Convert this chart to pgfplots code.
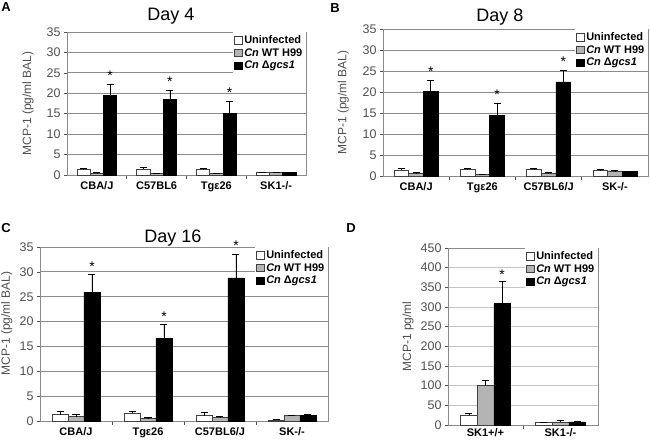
\documentclass[border=0pt]{standalone}
\usepackage{fontspec}
\setmainfont{Liberation Sans}
\usepackage{pgfplots}
\pgfplotsset{compat=1.18}

\definecolor{gridc}{HTML}{8C8C8C}
\definecolor{gridd}{HTML}{C4C4C4}
\definecolor{framec}{HTML}{8A8A8A}
\definecolor{tickc}{HTML}{505050}
\definecolor{wtbar}{HTML}{B4B4B4}
\newcommand{\fs}[1]{\fontsize{#1bp}{#1bp}\selectfont}

\pgfplotsset{
  panel/.style={
    scale only axis, anchor=south west, clip=false,
    axis line style={draw=framec, line width=0.7bp},
    ymin=0,
    ymajorgrids, grid style={draw=gridc, line width=0.9bp},
    tick align=outside, xtick pos=bottom, ytick pos=left,
    major tick length=3bp, minor tick length=4bp,
    tick style={draw=tickc, line width=0.6bp},
    major x tick style={draw=none},
    minor x tick style={draw=tickc},
    yminorticks=false,
    /pgf/number format/assume math mode=true,
    yticklabel style={font=\fs{12.5}, text=tickc},
    xticklabel style={font=\bfseries\fs{11}, text=black},
    ylabel style={anchor=center, font=\fs{12}, text=tickc},
    legend style={at={(1,1)}, anchor=north east, draw=none, fill=white,
      font=\bfseries\fs{11}, inner sep=1.5bp, row sep=-0.5bp,
      /tikz/every even column/.style={column sep=2bp}},
    legend cell align=left,
    legend image code/.code={\draw[#1] (0bp,-3.5bp) rectangle (7.5bp,4bp);},
  },
  bar common/.style={ybar, bar width=0.222, bar shift=0, line width=0.6bp,
    error bars/.cd, y dir=plus, y explicit,
    error bar style={line width=0.7bp, black},
    error mark options={rotate=90, mark size=3.5bp, line width=0.7bp, black}},
  bU/.style={fill=white, draw=black!75, bar common},
  bW/.style={fill=wtbar, draw=black!75, bar common},
  bD/.style={fill=black, draw=black, bar common},
  star/.style={only marks, mark=text, text mark={\fs{14}*}, forget plot},
}

\begin{document}
\begin{tikzpicture}
\useasboundingbox (0,0) rectangle (650bp,441bp);

% Panel A
\begin{axis}[panel, at={(67bp,266bp)}, width=239bp, height=143bp,
  xmin=-0.5, xmax=3.5, ymax=35, ytick={0,5,...,35},
  xtick={0,1,2,3}, minor xtick={0.5,1.5,2.5},
  xticklabels={CBA/J, C57BL6, Tgε26, SK1-/-},
  ylabel={MCP-1 (pg/ml BAL)},
  ylabel style={at={(axis description cs:-0.163,0.5)}}]
\addplot[bU] coordinates {(-0.222,1.3)+-(0,0.3) (0.778,1.5)+-(0,0.3) (1.778,1.3)+-(0,0.3) (2.778,0.6)+-(0,0.1)};
\addlegendentry{Uninfected}
\addplot[bW] coordinates {(0,0.5)+-(0,0.1) (1,0.4)+-(0,0.1) (2,0.4)+-(0,0.1) (3,0.6)+-(0,0.1)};
\addlegendentry{\textit{Cn} WT H99}
\addplot[bD] coordinates {(0.222,19.5)+-(0,2.7) (1.222,18.5)+-(0,2.2) (2.222,15.1)+-(0,2.9) (3.222,0.6)+-(0,0.1)};
\addlegendentry{\textit{Cn} Δ\textit{gcs1}}
\addplot[star] coordinates {(0.222,24.3) (1.222,22.8) (2.222,20.1)};
\end{axis}

% Panel B
\begin{axis}[panel, at={(383bp,265bp)}, width=265bp, height=147bp,
  xmin=-0.5, xmax=3.5, ymax=35, ytick={0,5,...,35},
  xtick={0,1,2,3}, minor xtick={0.5,1.5,2.5},
  xticklabels={CBA/J, Tgε26, C57BL6/J, SK-/-},
  ylabel={MCP-1 (pg/ml BAL)},
  ylabel style={at={(axis description cs:-0.150,0.5)}}]
\addplot[bU] coordinates {(-0.222,1.4)+-(0,0.4) (0.778,1.5)+-(0,0.3) (1.778,1.5)+-(0,0.3) (2.778,1.3)+-(0,0.2)};
\addlegendentry{Uninfected}
\addplot[bW] coordinates {(0,0.7)+-(0,0.1) (1,0.3)+-(0,0.1) (2,0.6)+-(0,0.2) (3,1.2)+-(0,0.1)};
\addlegendentry{\textit{Cn} WT H99}
\addplot[bD] coordinates {(0.222,20.2)+-(0,2.6) (1.222,14.4)+-(0,2.9) (2.222,22.4)+-(0,2.7) (3.222,1.1)+-(0,0.1)};
\addlegendentry{\textit{Cn} Δ\textit{gcs1}}
\addplot[star] coordinates {(0.222,24.8) (1.222,19.3) (2.222,27.1)};
\end{axis}

% Panel C
\begin{axis}[panel, at={(40bp,20bp)}, width=288bp, height=174bp,
  xmin=-0.5, xmax=3.5, ymax=35, ytick={0,5,...,35},
  xtick={0,1,2,3}, minor xtick={0.5,1.5,2.5},
  xticklabels={CBA/J, Tgε26, C57BL6/J, SK-/-},
  ylabel={MCP-1 (pg/ml BAL)},
  ylabel style={at={(axis description cs:-0.115,0.56)}}]
\addplot[bU] coordinates {(-0.222,1.3)+-(0,0.7) (0.778,1.6)+-(0,0.4) (1.778,1.1)+-(0,0.6) (2.778,0.2)+-(0,0.2)};
\addlegendentry{Uninfected}
\addplot[bW] coordinates {(0,0.9)+-(0,0.4) (1,0.5)+-(0,0.2) (2,0.7)+-(0,0.2) (3,1.1)+-(0,0.1)};
\addlegendentry{\textit{Cn} WT H99}
\addplot[bD] coordinates {(0.222,25.9)+-(0,3.5) (1.222,16.6)+-(0,2.8) (2.222,28.8)+-(0,4.8) (3.222,1.1)+-(0,0.2)};
\addlegendentry{\textit{Cn} Δ\textit{gcs1}}
\addplot[star] coordinates {(0.222,31.0) (1.222,21.0) (2.222,35.2)};
\end{axis}

% Panel D
\begin{axis}[panel, at={(448bp,16bp)}, width=150bp, height=177bp,
  grid style={draw=gridd, line width=0.7bp},
  xticklabel style={yshift=3bp},
  xmin=-0.5, xmax=1.5, ymax=450, ytick={0,50,...,450},
  xtick={0,1}, minor xtick={0.5},
  xticklabels={SK1+/+, SK1-/-},
  ylabel={MCP-1 pg/ml},
  ylabel style={at={(axis description cs:-0.267,0.5)}}]
\addplot[bU] coordinates {(-0.222,25)+-(0,5) (0.778,7)+-(0,1)};
\addlegendentry{Uninfected}
\addplot[bW] coordinates {(0,100)+-(0,14) (1,8)+-(0,3)};
\addlegendentry{\textit{Cn} WT H99}
\addplot[bD] coordinates {(0.222,309)+-(0,56) (1.222,8)+-(0,2)};
\addlegendentry{\textit{Cn} Δ\textit{gcs1}}
\addplot[star] coordinates {(0.222,382)};
\end{axis}

% Titles and panel letters
\node[font=\fs{18}, anchor=base] at (171bp,420bp) {Day 4};
\node[font=\fs{18}, anchor=base] at (500bp,419bp) {Day 8};
\node[font=\fs{18}, anchor=base] at (173bp,198bp) {Day 16};
\node[font=\bfseries\fs{13}, anchor=base] at (6bp,429bp) {A};
\node[font=\bfseries\fs{13}, anchor=base] at (335bp,428bp) {B};
\node[font=\bfseries\fs{13}, anchor=base] at (6bp,208bp) {C};
\node[font=\bfseries\fs{13}, anchor=base] at (351bp,208bp) {D};
\end{tikzpicture}
\end{document}
